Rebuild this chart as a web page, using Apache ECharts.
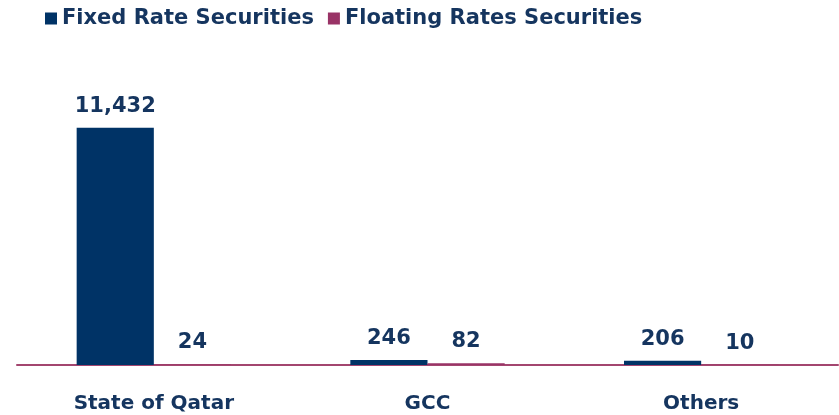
<!DOCTYPE html>
<html>
<head>
<meta charset="utf-8">
<script src="https://cdn.jsdelivr.net/npm/echarts@6/dist/echarts.min.js"></script>
<style>
  html, body { margin: 0; padding: 0; background: #fff; }
  #chart { width: 839px; height: 415px; }
</style>
</head>
<body>
<div id="chart"></div>
<script>
const categories = ["State of Qatar", "GCC", "Others"];
const fixedRate = [11432, 246, 206];
const floatingRate = [24, 82, 10];
const seriesNames = ["Fixed Rate Securities", "Floating Rates Securities"];

const textColor = "#15355f";
const font = "'DejaVu Sans', sans-serif";

const chart = echarts.init(document.getElementById("chart"));

const valueLabel = {
  show: true,
  position: "top",
  distance: 11,
  color: textColor,
  fontFamily: font,
  fontWeight: "bold",
  fontSize: 21,
  formatter: (p) => p.value.toLocaleString("en-US"),
};

chart.setOption({
  animation: false,
  legend: {
    left: 40,
    top: 3,
    icon: "rect",
    itemWidth: 12,
    itemHeight: 12,
    itemGap: 14,
    textStyle: {
      color: textColor,
      fontFamily: font,
      fontWeight: "bold",
      fontSize: 21,
    },
    data: seriesNames,
  },
  grid: {
    left: 17,
    right: 1,
    top: 116,
    bottom: 50,
  },
  xAxis: {
    type: "category",
    data: categories,
    axisTick: { show: false },
    axisLine: {
      lineStyle: { color: "#a3466f", width: 2 },
    },
    axisLabel: {
      margin: 29,
      color: textColor,
      fontFamily: font,
      fontWeight: "bold",
      fontSize: 20,
    },
  },
  yAxis: {
    type: "value",
    min: 0,
    max: 12000,
    show: false,
    splitLine: { show: false },
  },
  series: [
    {
      name: seriesNames[0],
      type: "bar",
      data: fixedRate,
      barGap: "0%",
      barCategoryGap: "43.6%",
      itemStyle: { color: "#003366" },
      label: valueLabel,
    },
    {
      name: seriesNames[1],
      type: "bar",
      data: floatingRate,
      itemStyle: { color: "#993366" },
      label: valueLabel,
    },
  ],
});
</script>
</body>
</html>
